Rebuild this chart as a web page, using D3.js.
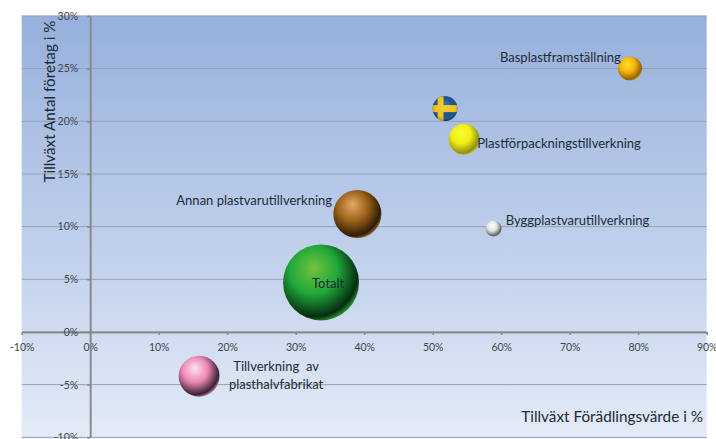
<!DOCTYPE html>
<html lang="sv">
<head>
<meta charset="utf-8">
<style>
html,body{margin:0;padding:0;background:#fff}
svg{display:block}
text{font-family:Lato,"Open Sans",sans-serif}
</style>
<script src="https://cdnjs.cloudflare.com/ajax/libs/d3/7.8.5/d3.min.js"></script>
</head>
<body>
<svg id="chart" width="716" height="439"></svg>
<script>
// Branch growth: value added (x), number of companies (y), bubble area (size)
const branches = ["Basplastframställning","Sverige","Plastförpackningstillverkning","Byggplastvarutillverkning","Annan plastvarutillverkning","Totalt","Tillverkning av plasthalvfabrikat"];
const growthValueAdded = [78.8,51.8,54.6,58.9,39.0,33.7,15.9];
const growthCompanies = [25.0,21.2,18.3,9.8,11.2,4.7,-4.2];
const bubbleSizes = [10,10.8,16.6,4.4,40,100,29];
const sphereColors = [
  ["#ffe22c","#f8b20d","#8f6304","#e9b81f"],
  ["#ffffff","#ffffff","#ffffff","#ffffff"],
  ["#fbfb3c","#f0ee12","#8f8d14","#dedc1c"],
  ["#ffffff","#e2e2e2","#5f5f5f","#c4c4c4"],
  ["#e0aa68","#9c6219","#2f1c05","#b07a34"],
  ["#74c23c","#20a93a","#062c11","#36bb3c"],
  ["#fbe2ee","#ec88b6","#3a2032","#f2a6c8"]
];
const labelLines = [
  ["Basplastframställning"],[],["Plastförpackningstillverkning"],["Byggplastvarutillverkning"],
  ["Annan plastvarutillverkning"],["Totalt"],["Tillverkning  av","plasthalvfabrikat"]
];
const labelOffsets = [[-130,-7],[0,0],[13,9],[12,-4],[-181,-9],[-9,6],[77,-4.7]];
const xTicks = [-10,0,10,20,30,40,50,60,70,80,90];
const yTicks = [-10,-5,0,5,10,15,20,25,30];
const xTitle = "Tillväxt Förädlingsvärde i %";
const yTitle = "Tillväxt Antal företag i %";

const svg = d3.select("#chart");
const x = d3.scaleLinear().domain([-10,90]).range([21.7,706.7]);
const y = d3.scaleLinear().domain([-10,30]).range([437.3,15.9]);
const r = d3.scaleSqrt().domain([0,100]).range([0,38]);
const defs = svg.append("defs");

// Plot background fades from mid blue at the top to pale blue at the bottom
const bg = defs.append("linearGradient").attr("id","bg").attr("x1",0).attr("x2",0).attr("y1",0).attr("y2",1);
bg.append("stop").attr("offset",0).attr("stop-color","#96b0dc");
bg.append("stop").attr("offset",0.5).attr("stop-color","#bccdea");
bg.append("stop").attr("offset",1).attr("stop-color","#e4ebf7");
svg.append("rect").attr("x",x(-10)).attr("y",y(30)).attr("width",x(90)-x(-10)).attr("height",439-y(30)).attr("fill","url(#bg)");

// Horizontal gridlines
svg.append("g").selectAll("line").data(yTicks).join("line")
  .attr("x1",x(-10)).attr("x2",x(90)).attr("y1",d=>y(d)).attr("y2",d=>y(d))
  .attr("stroke","#9aa0ac").attr("stroke-width",1);

const pct = d=>d+"%";
const styleAxis = g=>{
  g.select(".domain").attr("stroke","#8a8a8a").attr("stroke-width",2);
  g.selectAll(".tick line").attr("stroke","#8a8a8a").attr("stroke-width",1.5);
  g.selectAll(".tick text").attr("fill","#3f4650").attr("font-size",10.5).style("font-family","Lato,sans-serif");
};
svg.append("g").attr("transform",`translate(0,${y(0)})`)
  .call(d3.axisBottom(x).tickValues(xTicks).tickFormat(pct).tickSize(3).tickSizeOuter(0).tickPadding(9))
  .call(styleAxis);
svg.append("g").attr("transform",`translate(${x(0)},0)`)
  .call(d3.axisLeft(y).tickValues(yTicks).tickFormat(pct).tickSize(3).tickSizeOuter(0).tickPadding(9))
  .call(styleAxis);

// Sphere shading: highlight up-left, dark lower right, reflected rim at the edge
sphereColors.forEach((c,i)=>{
  const g = defs.append("radialGradient").attr("id","sphere"+i)
    .attr("cx",0.4).attr("cy",0.38).attr("r",0.68).attr("fx",0.4).attr("fy",0.3);
  g.append("stop").attr("offset",0).attr("stop-color",c[0]);
  g.append("stop").attr("offset",0.46).attr("stop-color",c[1]);
  g.append("stop").attr("offset",0.86).attr("stop-color",c[2]);
  g.append("stop").attr("offset",1).attr("stop-color",c[3]);
});

const points = branches.map((name,i)=>({name,i,vx:growthValueAdded[i],vy:growthCompanies[i],size:bubbleSizes[i]}));
const FLAG = 1;

svg.append("g").selectAll("circle").data(points.filter(d=>d.i!==FLAG)).join("circle")
  .attr("cx",d=>x(d.vx)).attr("cy",d=>y(d.vy)).attr("r",d=>r(d.size))
  .attr("fill",d=>`url(#sphere${d.i})`);

// National marker: a flag wrapped on a ball
const flag = points[FLAG], fx = x(flag.vx), fy = y(flag.vy), fr = r(flag.size);
defs.append("clipPath").attr("id","flagClip").append("circle").attr("cx",fx).attr("cy",fy).attr("r",fr);
const flagG = svg.append("g").attr("clip-path","url(#flagClip)");
flagG.append("rect").attr("x",fx-fr).attr("y",fy-fr).attr("width",2*fr).attr("height",2*fr).attr("fill","#17528f");
flagG.append("rect").attr("x",fx-fr).attr("y",fy-fr*0.28).attr("width",2*fr).attr("height",fr*0.56).attr("fill","#f2c21a");
flagG.append("rect").attr("x",fx-fr*0.6).attr("y",fy-fr).attr("width",fr*0.48).attr("height",2*fr).attr("fill","#f2c21a");
const gloss = defs.append("radialGradient").attr("id","flagGloss").attr("cx",0.5).attr("cy",0.5).attr("r",0.55).attr("fy",0.3);
gloss.append("stop").attr("offset",0).attr("stop-color","#fff").attr("stop-opacity",0.2);
gloss.append("stop").attr("offset",0.65).attr("stop-color","#fff").attr("stop-opacity",0);
gloss.append("stop").attr("offset",0.92).attr("stop-color","#000").attr("stop-opacity",0.25);
gloss.append("stop").attr("offset",1).attr("stop-color","#000").attr("stop-opacity",0.1);
flagG.append("circle").attr("cx",fx).attr("cy",fy).attr("r",fr).attr("fill","url(#flagGloss)");

// Bubble labels; a wrapped label is centred on its offset, a single line starts there
const labels = svg.append("g").selectAll("text").data(points.filter(d=>labelLines[d.i].length)).join("text")
  .attr("fill","#1f2a38").attr("font-size",13).style("white-space","pre");
labels.each(function(d){
  const [dx,dy] = labelOffsets[d.i];
  const lines = labelLines[d.i];
  d3.select(this).selectAll("tspan").data(lines).join("tspan")
    .attr("x",x(d.vx)+dx)
    .attr("y",(_,k)=>y(d.vy)+dy+k*18)
    .attr("text-anchor",lines.length>1?"middle":"start")
    .text(t=>t);
});

// Axis titles
svg.append("text").attr("x",703).attr("y",422).attr("text-anchor","end")
  .attr("fill","#222a35").attr("font-size",15.3).text(xTitle);
svg.append("text").attr("transform","translate(54.5,101.5) rotate(-90)").attr("text-anchor","middle")
  .attr("fill","#222a35").attr("font-size",15.2).text(yTitle);
</script>
</body>
</html>
